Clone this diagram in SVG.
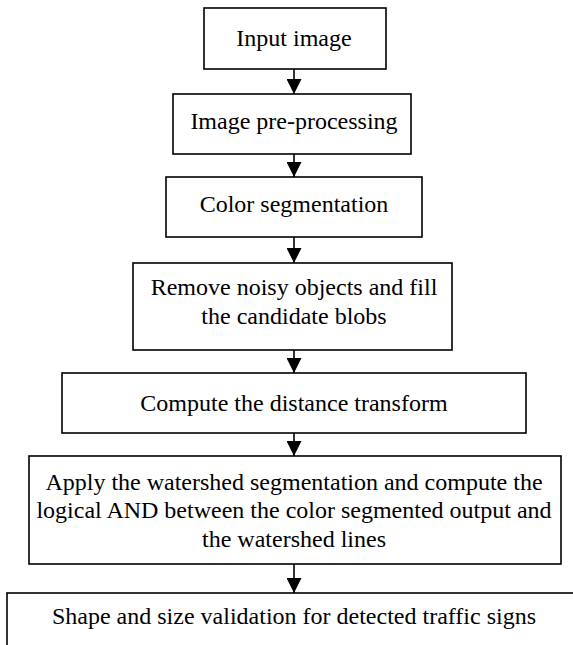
<svg xmlns="http://www.w3.org/2000/svg" width="573" height="645" viewBox="0 0 573 645">
<style>
.box{fill:#fff;stroke:#000;stroke-width:1.6}
.t{font-family:"Liberation Serif","Times New Roman",serif;font-size:24px;fill:#000;text-anchor:middle}
.c{stroke:#000;stroke-width:1.6;fill:none}
</style>
<defs>
<marker id="ah" markerUnits="userSpaceOnUse" markerWidth="15" markerHeight="15" refX="15" refY="7.5" orient="auto" viewBox="0 0 15 15">
<path d="M0,0 L15,7.5 L0,15 Z" fill="#000"/>
</marker>
</defs>
<g id="connectors">
<line class="c" x1="294" y1="69" x2="294" y2="94" marker-end="url(#ah)"/>
<line class="c" x1="294" y1="154" x2="294" y2="177" marker-end="url(#ah)"/>
<line class="c" x1="294" y1="237" x2="294" y2="263" marker-end="url(#ah)"/>
<line class="c" x1="294" y1="350" x2="294" y2="373" marker-end="url(#ah)"/>
<line class="c" x1="294" y1="433" x2="294" y2="456" marker-end="url(#ah)"/>
<line class="c" x1="294" y1="564" x2="294" y2="593" marker-end="url(#ah)"/>
</g>
<g id="n1"><rect class="box" x="204" y="8" width="182" height="61"/><text class="t" x="294" y="46">Input image</text></g>
<g id="n2"><rect class="box" x="173" y="94" width="238" height="60"/><text class="t" x="294" y="129">Image pre-processing</text></g>
<g id="n3"><rect class="box" x="166" y="177" width="256" height="60"/><text class="t" x="294" y="212">Color segmentation</text></g>
<g id="n4"><rect class="box" x="133" y="263" width="319" height="87"/><text class="t" x="294" y="295">Remove noisy objects and fill</text><text class="t" x="294" y="324">the candidate blobs</text></g>
<g id="n5"><rect class="box" x="62" y="373" width="464" height="60"/><text class="t" x="294" y="411">Compute the distance transform</text></g>
<g id="n6"><rect class="box" x="29" y="456" width="532" height="108"/><text class="t" x="294" y="490">Apply the watershed segmentation and compute the</text><text class="t" x="294" y="518">logical AND between the color segmented output and</text><text class="t" x="294" y="547">the watershed lines</text></g>
<g id="n7"><rect class="box" x="7" y="593" width="580" height="70"/><text class="t" x="294" y="624">Shape and size validation for detected traffic signs</text></g>
</svg>
